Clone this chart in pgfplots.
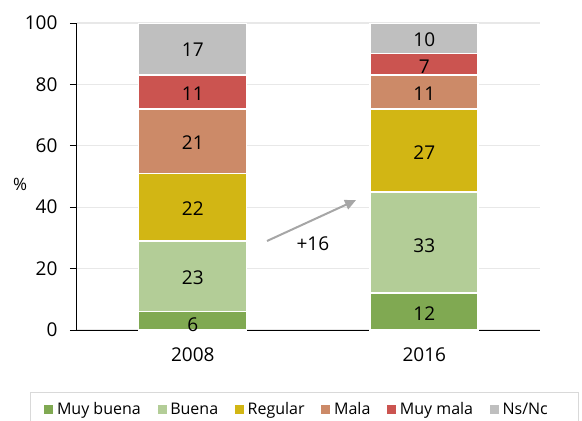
\documentclass[border=0pt]{standalone}
\usepackage{pgfplots}
\pgfplotsset{compat=1.18}
\usepackage{fontspec}
\setmainfont{Open Sans}
\usetikzlibrary{arrows.meta}
\definecolor{cMB}{HTML}{80A952}
\definecolor{cB}{HTML}{B3CD97}
\definecolor{cR}{HTML}{D2B614}
\definecolor{cM}{HTML}{CC8A68}
\definecolor{cMM}{HTML}{CB5450}
\definecolor{cNS}{HTML}{BFBFBF}
\definecolor{cGrid}{HTML}{E8E8E8}
\definecolor{cArrow}{HTML}{A6A6A6}
\pgfplotsset{myleg/.style={legend image code/.code={\path (0pt,0pt) -- (11pt,0pt); \fill[##1,draw=none] (0pt,-4.5pt) rectangle (9pt,4.5pt);}}}
\begin{document}
\begin{tikzpicture}
\begin{axis}[
  at={(77pt,91pt)}, anchor=south west,
  scale only axis, width=463pt, height=307pt,
  ybar stacked, bar width=108pt,
  xmin=-0.5, xmax=1.5, ymin=0, ymax=100,
  xtick={0,1}, xticklabels={2008,2016},
  major x tick style={draw=none},
  extra x ticks={-0.5,0.5,1.5}, extra x tick labels={},
  extra x tick style={grid=none, major tick length=8pt, tick style={black, line width=1pt}},
  ytick={0,20,40,60,80,100},
  axis x line*=bottom, axis y line*=left,
  axis line style={black, line width=1pt},
  ytick style={black, line width=1pt},
  tick align=outside, major tick length=7pt,
  ymajorgrids, grid style={cGrid, line width=1.3pt},
  tick label style={font=\fontsize{19}{22}\selectfont},
  /pgf/number format/assume math mode=true,
  yticklabel style={xshift=-9pt},
  xticklabel style={yshift=-7pt},
  ylabel={\%},
  every axis y label/.style={at={(rel axis cs:-0.123,0.4756)}, anchor=center, font=\fontsize{17}{20}\selectfont},
  legend columns=-1,
  legend style={at={(rel axis cs:-0.1015,-0.202)}, anchor=north west,
    draw=black!15, line width=1pt, inner xsep=13pt, inner ysep=9pt,
    font=\fontsize{16}{19}\selectfont,
    nodes={inner sep=1pt},
    /tikz/every even column/.append style={column sep=15pt}},
]
\addplot[fill=cMB, draw=white, line width=1.5pt, myleg] coordinates {(0,6) (1,12)};
\addlegendentry{Muy buena}
\addplot[fill=cB, draw=white, line width=1.5pt, myleg] coordinates {(0,23) (1,33)};
\addlegendentry{Buena}
\addplot[fill=cR, draw=white, line width=1.5pt, myleg] coordinates {(0,22) (1,27)};
\addlegendentry{Regular}
\addplot[fill=cM, draw=white, line width=1.5pt, myleg] coordinates {(0,21) (1,11)};
\addlegendentry{Mala}
\addplot[fill=cMM, draw=white, line width=1.5pt, myleg] coordinates {(0,11) (1,7)};
\addlegendentry{Muy mala}
\addplot[fill=cNS, draw=white, line width=1.5pt, myleg] coordinates {(0,17) (1,10)};
\addlegendentry{Ns/Nc}
\addlegendimage{empty legend}
\addlegendentry{\hspace{60pt}}
\end{axis}
\begin{axis}[
  at={(77pt,91pt)}, anchor=south west,
  scale only axis, width=463pt, height=307pt,
  xmin=-0.5, xmax=1.5, ymin=0, ymax=100,
  hide axis, clip=false,
]
\addplot[only marks, mark=none, nodes near coords, point meta=explicit symbolic,
  every node near coord/.append style={anchor=center, inner sep=0pt, font=\fontsize{19}{22}\selectfont}]
  coordinates {
   (0,1.8)[6] (0,16.9)[23] (0,39.4)[22] (0,60.9)[21] (0,76.9)[11] (0,91.2)[17]
   (1,5.2)[12] (1,27.6)[33] (1,57.8)[27] (1,76.9)[11] (1,85.9)[7] (1,94.4)[10]
  };
\addplot[cArrow, line width=2pt, -{Triangle[length=11pt,width=10pt]}] coordinates {(0.321,29.0) (0.705,42.3)};
\node[font=\fontsize{19}{22}\selectfont, inner sep=0pt] at (axis cs:0.519,28.2) {+16};
\end{axis}
\pgfresetboundingbox
\useasboundingbox (0,0) rectangle (582pt,421pt);
\end{tikzpicture}
\end{document}
